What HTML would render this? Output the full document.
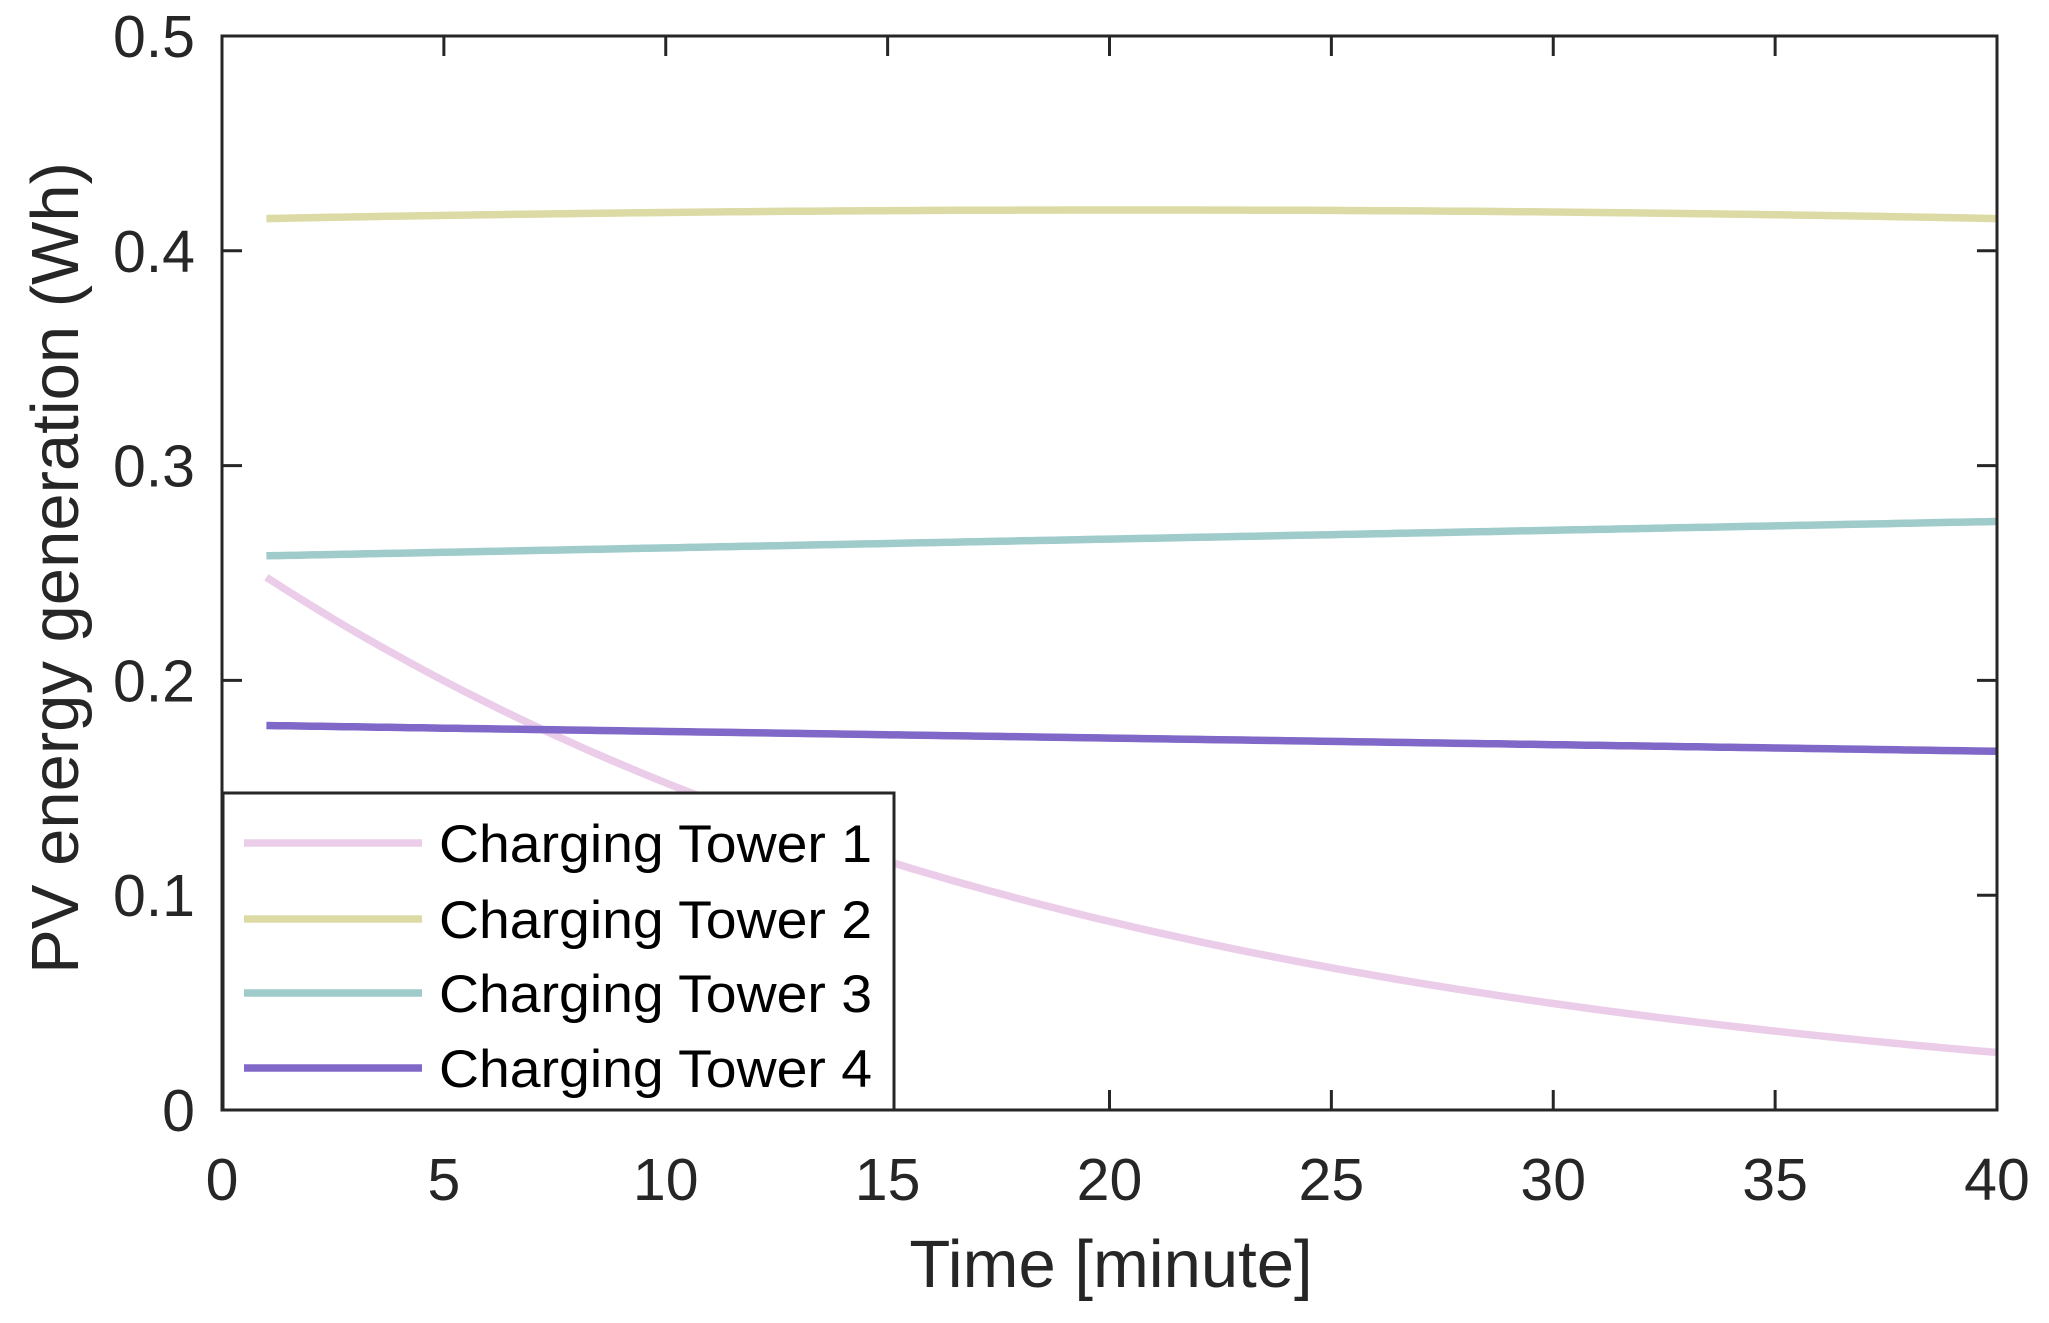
<!DOCTYPE html>
<html><head><meta charset="utf-8"><style>
html,body{margin:0;padding:0;background:#fff;}
svg{display:block;font-family:"Liberation Sans",Arial,sans-serif;}
</style></head><body>
<svg id="s" width="2049" height="1323" viewBox="0 0 2049 1323" xmlns="http://www.w3.org/2000/svg">
<rect width="2049" height="1323" fill="#fff"/>
<g id="lines" fill="none" stroke-width="7.5" stroke-linecap="butt"></g>
<g id="ticks" stroke="#262626" stroke-width="3"></g>
<rect x="222" y="36" width="1775" height="1074" fill="none" stroke="#262626" stroke-width="3"/>
<g font-size="59" fill="#262626" text-anchor="end" id="yl"></g>
<g font-size="59" fill="#262626" text-anchor="middle" id="xl"></g>
<text x="1111" y="1287" font-size="67" fill="#262626" text-anchor="middle">Time [minute]</text>
<text transform="translate(78,568) rotate(-90)" font-size="67" fill="#262626" text-anchor="middle">PV energy generation (Wh)</text>
<rect x="223" y="793" width="671" height="317" fill="#fff" stroke="#262626" stroke-width="3"/>
<g stroke-width="7.5">
<line x1="244" y1="843" x2="422" y2="843" stroke="#ebcdea"/>
<line x1="244" y1="919" x2="422" y2="919" stroke="#dddba5"/>
<line x1="244" y1="993" x2="422" y2="993" stroke="#a0cbcb"/>
<line x1="244" y1="1068" x2="422" y2="1068" stroke="#8068c8"/>
</g>
<g font-size="53" fill="#000">
<text x="439" y="862" textLength="433" lengthAdjust="spacingAndGlyphs">Charging Tower 1</text>
<text x="439" y="938" textLength="433" lengthAdjust="spacingAndGlyphs">Charging Tower 2</text>
<text x="439" y="1012" textLength="433" lengthAdjust="spacingAndGlyphs">Charging Tower 3</text>
<text x="439" y="1087" textLength="433" lengthAdjust="spacingAndGlyphs">Charging Tower 4</text>
</g>
</svg>
<script>
var NS="http://www.w3.org/2000/svg";
function X(t){return 222+t*1775/40;}
function Y(v){return 1110-v*1074/0.5;}
function el(p,n,a){var e=document.createElementNS(NS,n);for(var k in a)e.setAttribute(k,a[k]);p.appendChild(e);return e;}
var fs=[
 [function(t){return 0.248*Math.exp(-0.0535*(t-1))-0.004*(t-1)/39;},"#ebcdea"],
 [function(t){return 0.419-0.004*Math.pow((t-20.5)/19.5,2);},"#dddba5"],
 [function(t){return 0.258+0.016*(t-1)/39;},"#a0cbcb"],
 [function(t){return 0.179-0.012*(t-1)/39;},"#8068c8"]
];
var g=document.getElementById("lines");
fs.forEach(function(f){var d="";for(var t=1;t<=40.001;t+=0.25){d+=(d?"L":"M")+X(t).toFixed(1)+","+Y(f[0](t)).toFixed(1);}el(g,"path",{d:d,stroke:f[1]});});
var tk=document.getElementById("ticks"),yl=document.getElementById("yl"),xl=document.getElementById("xl");
for(var i=0;i<=5;i++){var v=i/10,y=Y(v);
 el(tk,"line",{x1:222,y1:y,x2:242,y2:y});el(tk,"line",{x1:1997,y1:y,x2:1977,y2:y});
 var t=el(yl,"text",{x:195,y:y+21});t.textContent=i==0?"0":v.toFixed(1);}
for(var j=0;j<=8;j++){var x=X(j*5);
 el(tk,"line",{x1:x,y1:1110,x2:x,y2:1090});el(tk,"line",{x1:x,y1:36,x2:x,y2:56});
 var t2=el(xl,"text",{x:x,y:1200});t2.textContent=String(j*5);}
</script>
</body></html>
